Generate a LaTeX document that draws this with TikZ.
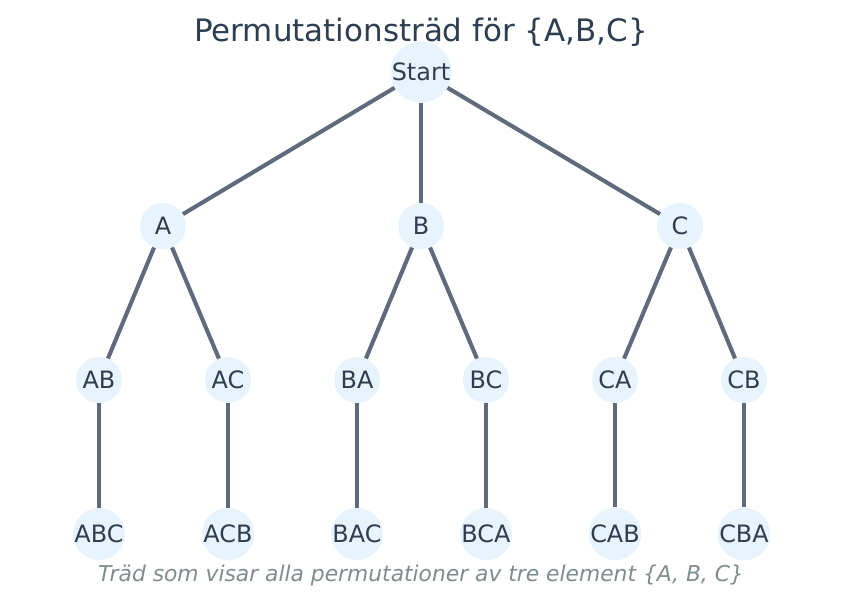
\documentclass[tikz,border=0pt]{standalone}
\usepackage{fontspec}
\setmainfont{DejaVu Sans}
\usetikzlibrary{positioning}
\definecolor{nodefill}{HTML}{E8F4FD}
\definecolor{edgecol}{HTML}{5F6B7A}
\definecolor{textcol}{HTML}{2C3E50}
\definecolor{capcol}{HTML}{7F8C8D}
\begin{document}
\begin{tikzpicture}[
    x=0.025cm, y=-0.025cm,
    perm/.style={circle, fill=nodefill, minimum size=1.15cm, inner sep=0pt, text=textcol, font=\fontsize{17}{20}\selectfont},
    edge/.style={draw=edgecol, line width=2.9pt}
]
    \useasboundingbox (0,0) rectangle (843,607);
    % Title
    \node[text=textcol, font=\fontsize{22}{26}\selectfont] (title) at (421,32) {Permutationsträd för \{A,B,C\}};

    % Edges
    \coordinate (s0) at (421,72);
    \foreach \p/\q in {421,72/163,226, 421,72/421,226, 421,72/680,226} {}
    % Nodes
    \node[perm] (s) at (421,72) {Start};
    \node[perm] (a) at (163,226) {A};
    \node[perm] (b) at (421,226) {B};
    \node[perm] (c) at (680,226) {C};
    \foreach \n/\t/\x in {ab/AB/99, ac/AC/228, ba/BA/357, bc/BC/486, ca/CA/615, cb/CB/744} {
        \node[perm] (\n) at (\x,380) {\t};
    }
    \foreach \n/\t/\x in {abc/ABC/99, acb/ACB/228, bac/BAC/357, bca/BCA/486, cab/CAB/615, cba/CBA/744} {
        \node[perm] (\n) at (\x,534) {\t};
    }

    \foreach \p/\q in {s/a, s/b, s/c, a/ab, a/ac, b/ba, b/bc, c/ca, c/cb, ab/abc, ac/acb, ba/bac, bc/bca, ca/cab, cb/cba}
        \draw[edge] (\p) -- (\q);

    % Caption
    \node[text=capcol, font=\fontsize{15.5}{18}\selectfont\itshape] (cap) at (421,575) {Träd som visar alla permutationer av tre element \{A, B, C\}};
\end{tikzpicture}
\end{document}
